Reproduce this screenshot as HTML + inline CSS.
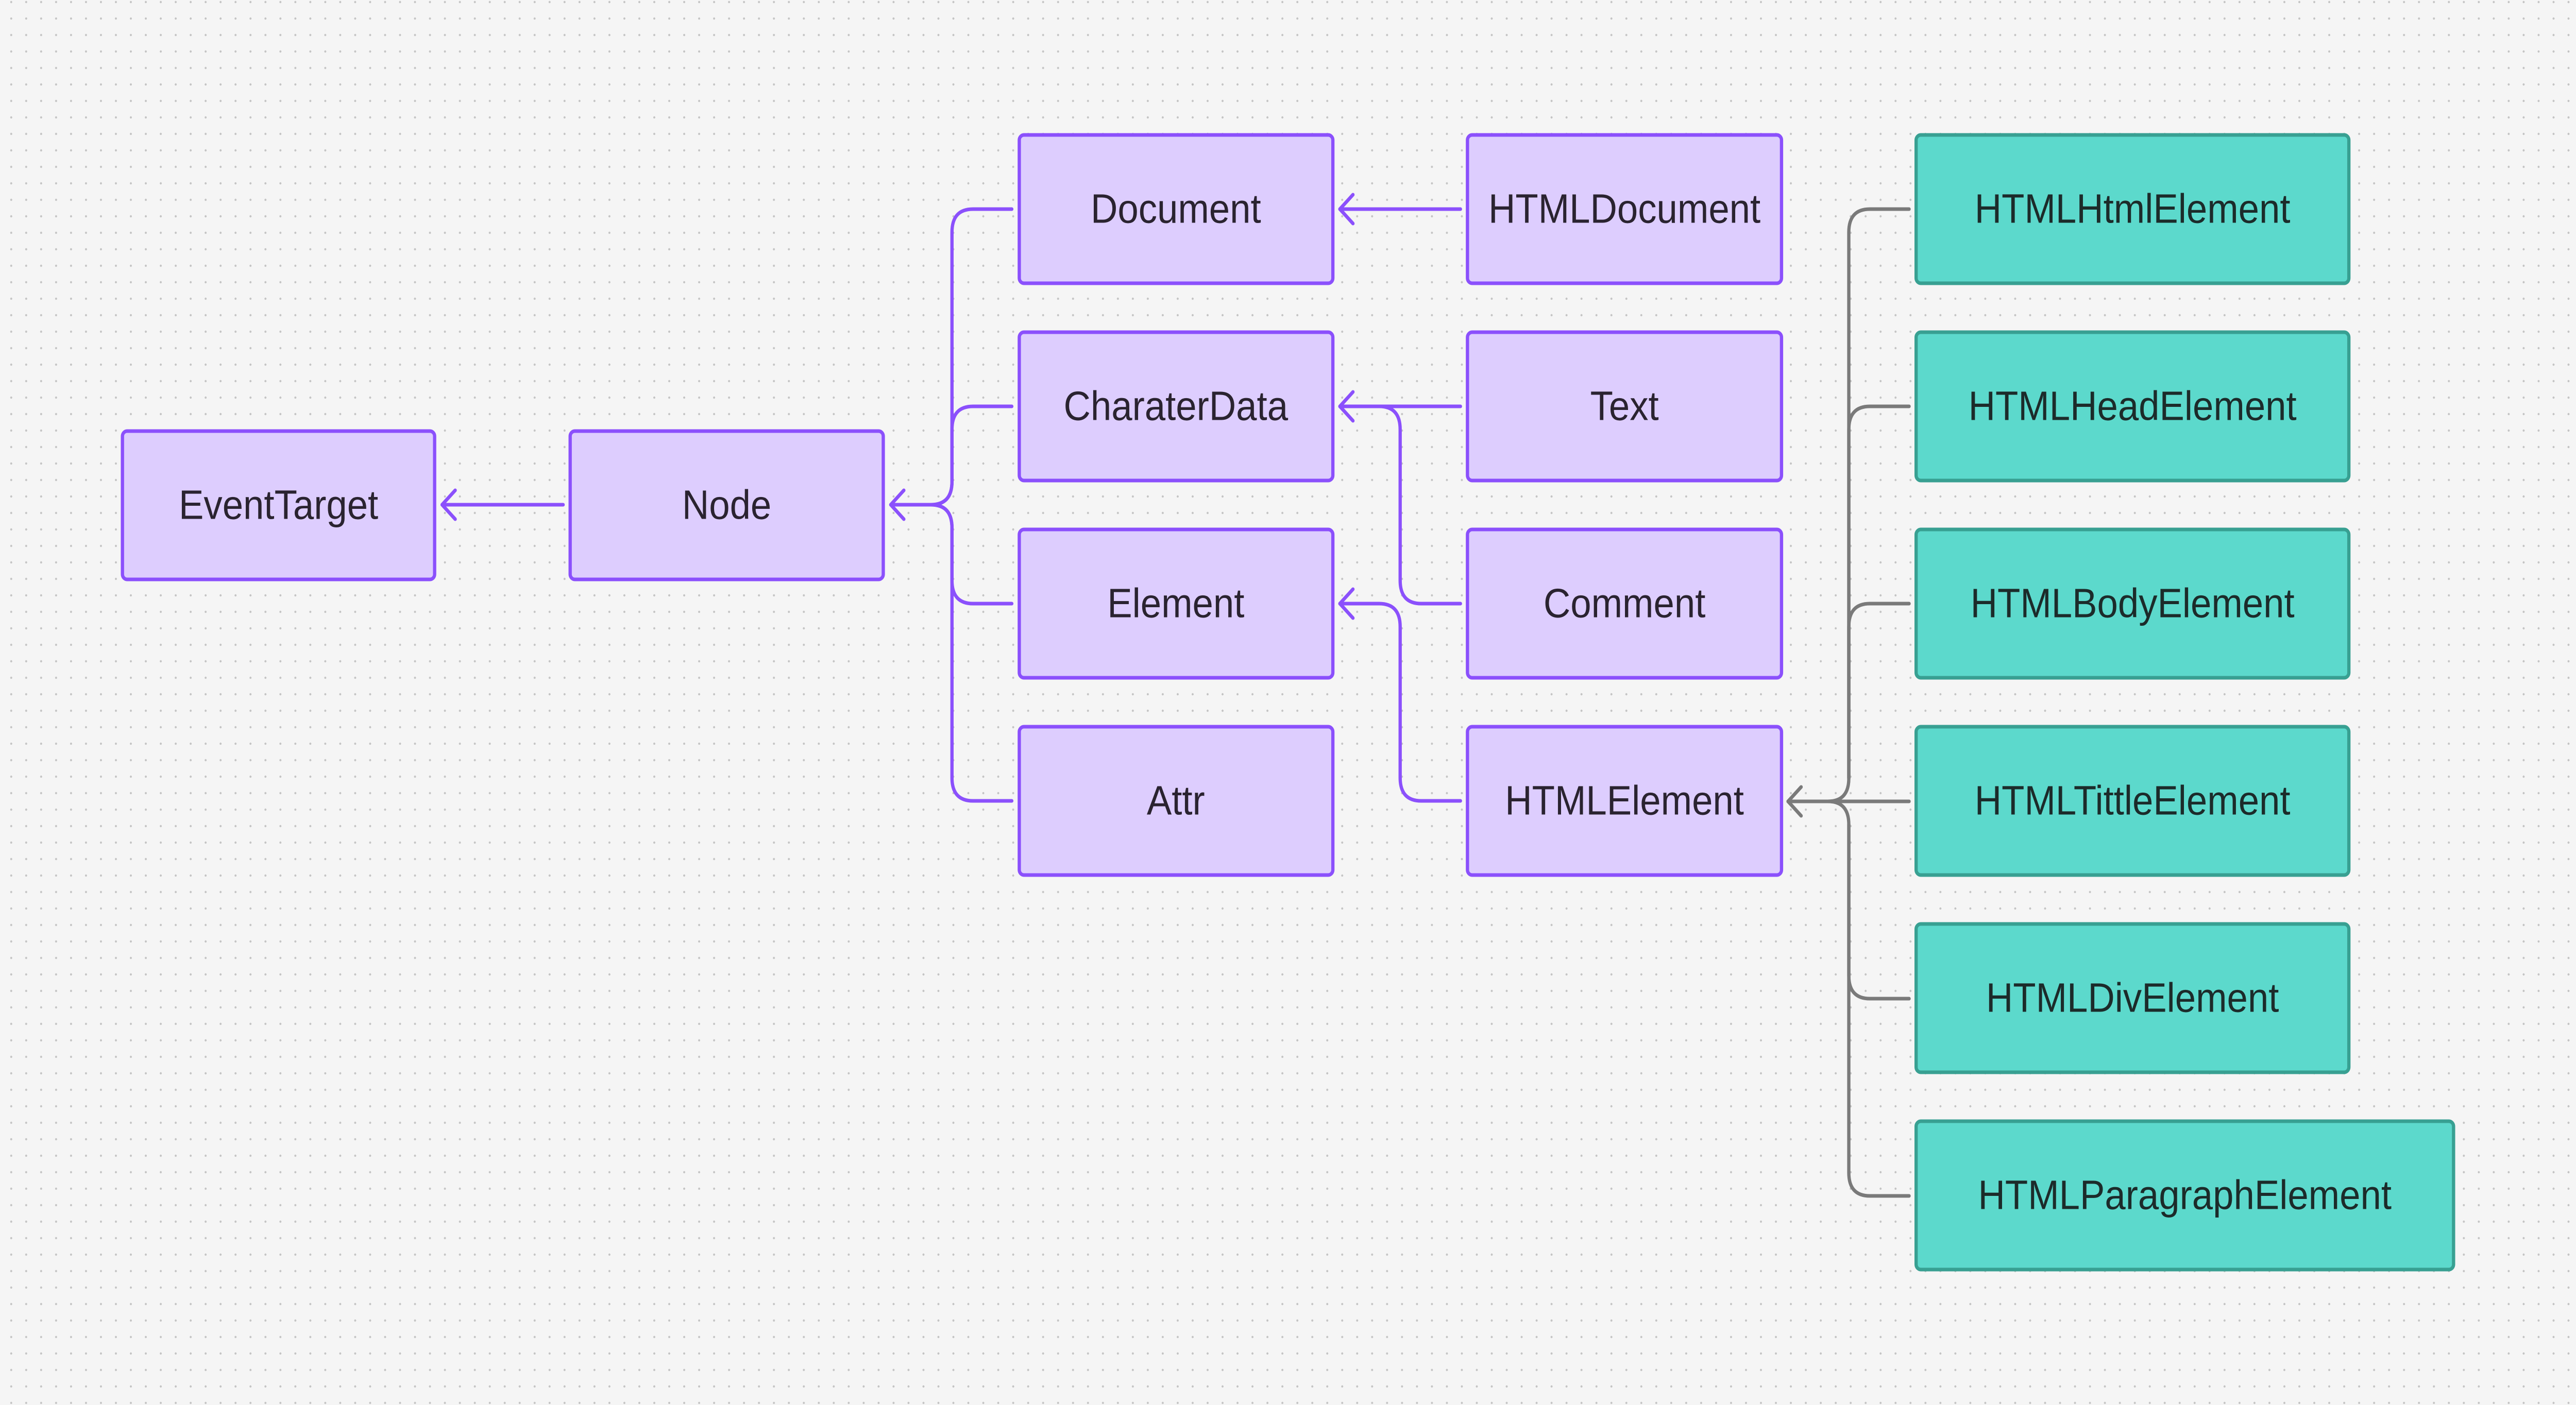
<!DOCTYPE html>
<html><head><meta charset="utf-8"><style>
html,body{margin:0;padding:0;background:#f5f5f5;overflow:hidden;width:100%;height:100%}
svg{display:block;width:100vw;height:100vh}
text{font-family:"Liberation Sans",sans-serif;font-size:80px;fill:#2a2330;text-anchor:middle;dominant-baseline:central}
</style></head><body>
<svg viewBox="0 0 5512 2728" preserveAspectRatio="none" xmlns="http://www.w3.org/2000/svg">
<defs>
<pattern id="d" x="-8" y="-28" width="32" height="32" patternUnits="userSpaceOnUse">
<circle cx="32" cy="32" r="2.2" fill="#c4c4c4"/><circle cx="0" cy="0" r="2.2" fill="#c4c4c4"/><circle cx="32" cy="0" r="2.2" fill="#c4c4c4"/><circle cx="0" cy="32" r="2.2" fill="#c4c4c4"/>
</pattern>
</defs>
<rect width="5512" height="2728" fill="#f5f5f5"/>
<rect width="5512" height="2728" fill="url(#d)"/>

<g fill="none" stroke="#8b50fc" stroke-width="7" stroke-linecap="round" stroke-linejoin="round">
<path d="M1205 980 H946"/><path d="M974 952 L946 980 L974 1008"/>
<path d="M2165 406 H2082 Q2037 406 2037 451 V935 Q2037 980 1992 980 H1906"/>
<path d="M2165 789 H2082 Q2037 789 2037 834 V935 Q2037 980 1992 980"/>
<path d="M2165 1172 H2082 Q2037 1172 2037 1127 V1025 Q2037 980 1992 980"/>
<path d="M2165 1555 H2082 Q2037 1555 2037 1510 V1025 Q2037 980 1992 980"/>
<path d="M1934 952 L1906 980 L1934 1008"/>
<path d="M3125 406 H2867"/><path d="M2895 378 L2867 406 L2895 434"/>
<path d="M3125 789 H2867"/>
<path d="M3125 1172 H3041 Q2996 1172 2996 1127 V834 Q2996 789 2951 789"/><path d="M2895 761 L2867 789 L2895 817"/>
<path d="M3125 1555 H3041 Q2996 1555 2996 1510 V1217 Q2996 1172 2951 1172 H2867"/><path d="M2895 1144 L2867 1172 L2895 1200"/>
</g>

<g fill="none" stroke="#7a7a7a" stroke-width="7" stroke-linecap="round" stroke-linejoin="round">
<path d="M4085 406 H4001 Q3956 406 3956 451 V1511 Q3956 1556 3911 1556 H3826"/>
<path d="M4085 789 H4001 Q3956 789 3956 834 V1511"/>
<path d="M4085 1172 H4001 Q3956 1172 3956 1217 V1511"/>
<path d="M4085 1556 H3826"/>
<path d="M4085 1939 H4001 Q3956 1939 3956 1894 V1601 Q3956 1556 3911 1556"/>
<path d="M4085 2322 H4001 Q3956 2322 3956 2277 V1601"/>
<path d="M3854 1528 L3826 1556 L3854 1584"/>
</g>

<g fill="#ddcdfe" stroke="#8b50fc" stroke-width="7">
<rect x="262" y="837" width="668" height="288" rx="10"/>
<rect x="1220" y="837" width="670" height="288" rx="10"/>
<rect x="2181" y="262" width="671" height="288" rx="10"/>
<rect x="2181" y="645" width="671" height="288" rx="10"/>
<rect x="2181" y="1028" width="671" height="288" rx="10"/>
<rect x="2181" y="1411" width="671" height="288" rx="10"/>
<rect x="3140" y="262" width="672" height="288" rx="10"/>
<rect x="3140" y="645" width="672" height="288" rx="10"/>
<rect x="3140" y="1028" width="672" height="288" rx="10"/>
<rect x="3140" y="1411" width="672" height="288" rx="10"/>
</g>
<g fill="#5cd9cc" stroke="#38a092" stroke-width="7">
<rect x="4100" y="262" width="926" height="288" rx="10"/>
<rect x="4100" y="645" width="926" height="288" rx="10"/>
<rect x="4100" y="1028" width="926" height="288" rx="10"/>
<rect x="4100" y="1411" width="926" height="288" rx="10"/>
<rect x="4100" y="1794" width="926" height="288" rx="10"/>
<rect x="4100" y="2177" width="1150" height="288" rx="10"/>
</g>

<text x="596" y="981">EventTarget</text>
<text x="1555" y="981">Node</text>
<text x="2516" y="406">Document</text>
<text x="2516" y="789">CharaterData</text>
<text x="2516" y="1172">Element</text>
<text x="2516" y="1555">Attr</text>
<text x="3476" y="406">HTMLDocument</text>
<text x="3476" y="789">Text</text>
<text x="3476" y="1172">Comment</text>
<text x="3476" y="1555">HTMLElement</text>
<text x="4563" y="406" style="fill:#1c2b2a">HTMLHtmlElement</text>
<text x="4563" y="789" style="fill:#1c2b2a">HTMLHeadElement</text>
<text x="4563" y="1172" style="fill:#1c2b2a">HTMLBodyElement</text>
<text x="4563" y="1555" style="fill:#1c2b2a">HTMLTittleElement</text>
<text x="4563" y="1938" style="fill:#1c2b2a">HTMLDivElement</text>
<text x="4675" y="2321" style="fill:#1c2b2a">HTMLParagraphElement</text>
</svg>
</body></html>
